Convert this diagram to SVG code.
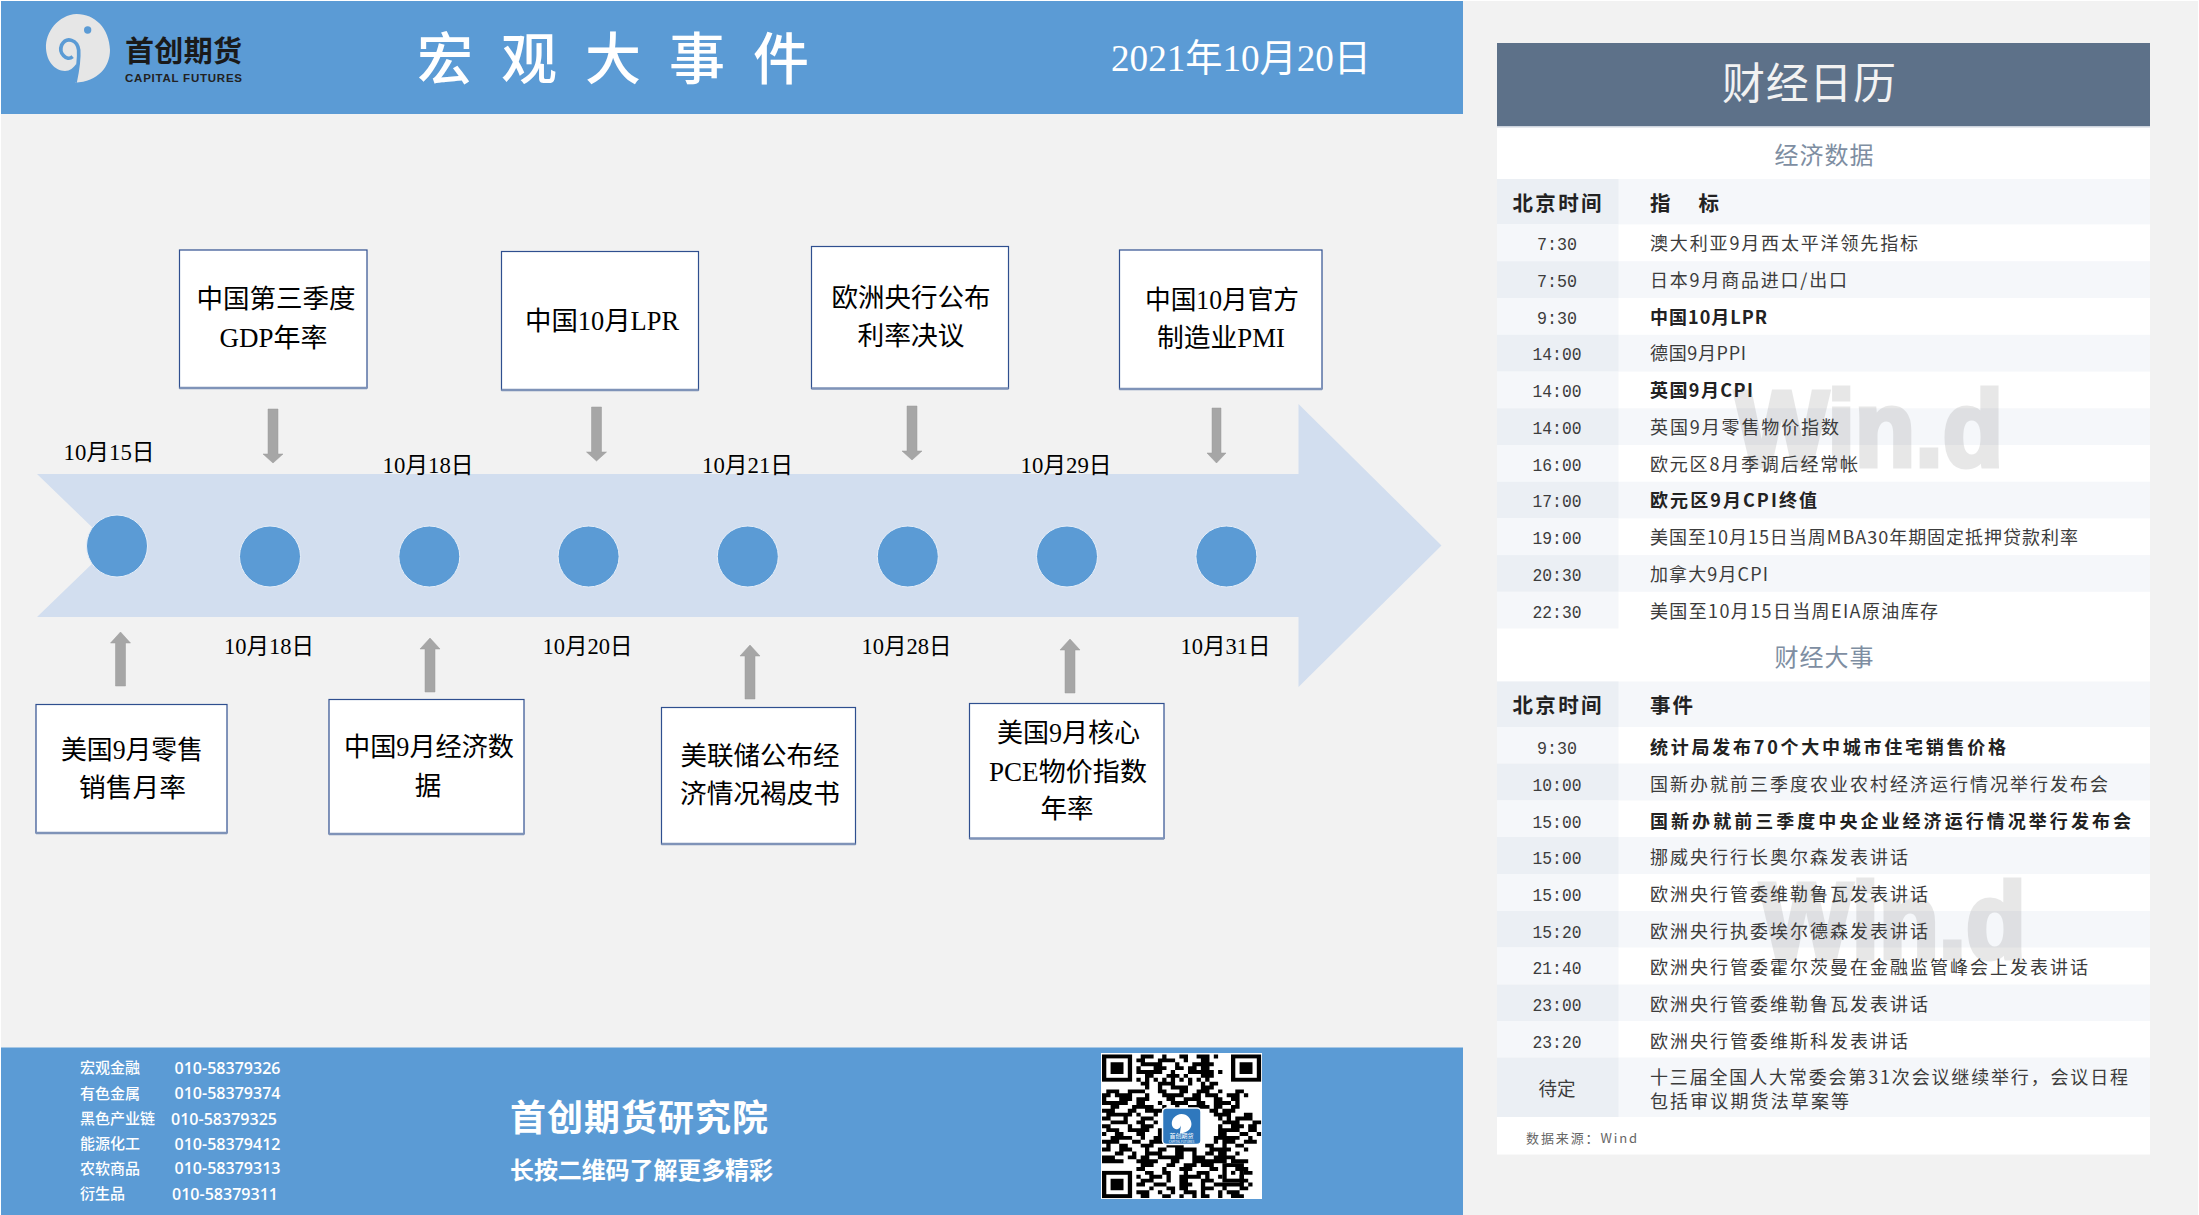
<svg xmlns="http://www.w3.org/2000/svg" width="2199" height="1215" viewBox="0 0 2199 1215">
<style>
text{font-family:"Noto Sans CJK SC","Noto Sans",sans-serif}
.band{fill:#5b9bd5}
.srf{font-family:"Liberation Serif","Noto Sans CJK SC",sans-serif;fill:#000}
.box{fill:#fff;stroke:#2f4f8f;stroke-width:1.2}
.base{stroke:#7f93b8;stroke-width:2.5}
.bt{font-size:26.5px;text-anchor:middle}
.date{font-size:23px;text-anchor:middle}
.dot{fill:#5b9bd5;stroke:#e6eef8;stroke-width:1}
.arr{fill:#a6a6a6;stroke:#9a9a9a;stroke-width:.5}
.c1{fill:#ebeff4}.c1l{fill:#f5f7fa}.r{fill:#f5f7fa}
.tm{font-family:"Liberation Mono","Noto Sans CJK SC",monospace;font-size:19px;text-anchor:middle;fill:#3c3c3c}
.tx{font-size:18px;fill:#3c3c3c}
.b{font-weight:700;fill:#222}
.hd{font-size:20.5px;font-weight:700;fill:#222}
.sec{font-size:24px;fill:#7e8ea2;text-anchor:middle}
.wm{font-family:"Liberation Sans",sans-serif;font-weight:700;font-size:107px;fill:#000;stroke:#000;stroke-width:5;opacity:.09}
.ft{font-size:15px;fill:#fff;font-weight:500}
.fn{font-family:"Open Sans","Noto Sans",sans-serif;font-size:16px;fill:#fff;font-weight:600}
</style>
<rect width="2199" height="1215" fill="#fff"/>
<rect x="1" y="1" width="2197" height="1214" fill="#f2f2f2"/>

<g id="header">
<rect class="band" x="1" y="1" width="1462" height="113"/>
<g id="logo" transform="translate(20 0) scale(.3333)">
<path d="M165 248C235 245 270 200 270 150C268 85 225 42 170 42C115 45 76 95 78 145C80 185 105 213 135 213C150 213 160 205 170 190Z" fill="#e6e6e6"/>
<path d="M165 248C172 215 178 180 176 150C172 120 140 108 125 135C115 160 140 185 158 170" fill="none" stroke="#5b9bd5" stroke-width="11"/>
<circle cx="203" cy="90" r="11" fill="#5b9bd5"/>
</g>
<text x="125" y="62" font-size="29" font-weight="700" fill="#1a1a1a" textLength="117">首创期货</text>
<text x="125" y="82" font-size="11.5" font-weight="700" fill="#222" style="font-family:'Liberation Sans',sans-serif" textLength="117">CAPITAL FUTURES</text>
<text x="417" y="79" font-size="56" font-weight="500" fill="#fff" letter-spacing="28">宏观大事件</text>
<text x="1111" y="71" font-size="38" fill="#fff" style="font-family:'Liberation Serif','Noto Sans CJK SC',sans-serif" textLength="260" lengthAdjust="spacingAndGlyphs">2021年10月20日</text>
</g>

<g id="timeline">
<polygon points="37,474 1298.5,474 1298.5,404 1441.5,545.5 1298.5,687 1298.5,617 37,617 111,545.5" fill="#d2deef"/>
</g>

<g id="connectors">
<polygon class="arr" points="268,409 278,409 278,454 283,454 273,463 263,454 268,454"/>
<polygon class="arr" points="591.5,407 601.5,407 601.5,452 606.5,452 596.5,461 586.5,452 591.5,452"/>
<polygon class="arr" points="907,406 917,406 917,451 922,451 912,460 902,451 907,451"/>
<polygon class="arr" points="1212,408 1221,408 1221,453 1226,453 1216.5,463 1207,453 1212,453"/>
<polygon class="arr" points="115.500,686 125.500,686 125.500,643 130.500,643 120.500,632 110.500,643 115.500,643"/>
<polygon class="arr" points="425,692 435,692 435,649 440,649 430,638 420,649 425,649"/>
<polygon class="arr" points="745,699 755,699 755,656 760,656 750,645 740,656 745,656"/>
<polygon class="arr" points="1065,693 1075,693 1075,650 1080,650 1070,639 1060,650 1065,650"/>
</g>

<g id="node-1015"><ellipse class="dot" cx="117" cy="546" rx="30.500" ry="31"/><text class="srf date" x="109" y="459.500" textLength="91" lengthAdjust="spacingAndGlyphs">10月15日</text></g>
<g id="node-1018a"><ellipse class="dot" cx="270" cy="556.500" rx="30.500" ry="30.500"/><text class="srf date" x="269" y="653.500" textLength="90" lengthAdjust="spacingAndGlyphs">10月18日</text></g>
<g id="node-1018b"><ellipse class="dot" cx="429.300" cy="556.500" rx="30.500" ry="30.500"/><text class="srf date" x="428" y="472.500" textLength="91" lengthAdjust="spacingAndGlyphs">10月18日</text></g>
<g id="node-1020"><ellipse class="dot" cx="588.600" cy="556.500" rx="30.500" ry="30.500"/><text class="srf date" x="587.500" y="653.500" textLength="90" lengthAdjust="spacingAndGlyphs">10月20日</text></g>
<g id="node-1021"><ellipse class="dot" cx="747.800" cy="556.500" rx="30.500" ry="30.500"/><text class="srf date" x="747.500" y="472.500" textLength="91" lengthAdjust="spacingAndGlyphs">10月21日</text></g>
<g id="node-1028"><ellipse class="dot" cx="907.800" cy="556.500" rx="30.500" ry="30.500"/><text class="srf date" x="906.500" y="653.500" textLength="90" lengthAdjust="spacingAndGlyphs">10月28日</text></g>
<g id="node-1029"><ellipse class="dot" cx="1067" cy="556.500" rx="30.500" ry="30.500"/><text class="srf date" x="1066" y="472.500" textLength="91" lengthAdjust="spacingAndGlyphs">10月29日</text></g>
<g id="node-1031"><ellipse class="dot" cx="1226.400" cy="556.500" rx="30.500" ry="30.500"/><text class="srf date" x="1225.500" y="653.500" textLength="90" lengthAdjust="spacingAndGlyphs">10月31日</text></g>

<g id="box-gdp"><rect class="box" x="179.500" y="250" width="187.500" height="138"/><path class="base" d="M179.500 388H367"/><text class="srf bt" x="276" y="307.500" textLength="159" lengthAdjust="spacingAndGlyphs">中国第三季度</text><text class="srf bt" x="273.500" y="346.500" textLength="108" lengthAdjust="spacingAndGlyphs">GDP年率</text></g>
<g id="box-lpr"><rect class="box" x="501.500" y="251.500" width="197" height="138.500"/><path class="base" d="M501.500 390H698.500"/><text class="srf bt" x="602" y="329.500" textLength="154" lengthAdjust="spacingAndGlyphs">中国10月LPR</text></g>
<g id="box-ecb"><rect class="box" x="811.500" y="246.500" width="197" height="142"/><path class="base" d="M811.500 388.500H1008.500"/><text class="srf bt" x="911" y="306.500" textLength="159" lengthAdjust="spacingAndGlyphs">欧洲央行公布</text><text class="srf bt" x="911" y="344.500" textLength="107" lengthAdjust="spacingAndGlyphs">利率决议</text></g>
<g id="box-pmi"><rect class="box" x="1119.500" y="250" width="202.500" height="139"/><path class="base" d="M1119.500 389H1322"/><text class="srf bt" x="1222" y="308.500" textLength="154" lengthAdjust="spacingAndGlyphs">中国10月官方</text><text class="srf bt" x="1221" y="346.500" textLength="128" lengthAdjust="spacingAndGlyphs">制造业PMI</text></g>
<g id="box-retail"><rect class="box" x="36" y="704.500" width="191" height="128.500"/><path class="base" d="M36 833H227"/><text class="srf bt" x="132" y="758.500" textLength="142" lengthAdjust="spacingAndGlyphs">美国9月零售</text><text class="srf bt" x="132.500" y="796.500" textLength="107" lengthAdjust="spacingAndGlyphs">销售月率</text></g>
<g id="box-cn"><rect class="box" x="329" y="699.500" width="195" height="134.500"/><path class="base" d="M329 834H524"/><text class="srf bt" x="429" y="755.500" textLength="170" lengthAdjust="spacingAndGlyphs">中国9月经济数</text><text class="srf bt" x="428" y="794.500">据</text></g>
<g id="box-fed"><rect class="box" x="661.500" y="707.500" width="194" height="136.500"/><path class="base" d="M661.500 844H855.500"/><text class="srf bt" x="760" y="764.500" textLength="159" lengthAdjust="spacingAndGlyphs">美联储公布经</text><text class="srf bt" x="760" y="802.500" textLength="160" lengthAdjust="spacingAndGlyphs">济情况褐皮书</text></g>
<g id="box-pce"><rect class="box" x="969.500" y="703.500" width="194.500" height="135"/><path class="base" d="M969.500 838.500H1164"/><text class="srf bt" x="1068.500" y="741.500" textLength="143" lengthAdjust="spacingAndGlyphs">美国9月核心</text><text class="srf bt" x="1068" y="780.500" textLength="158" lengthAdjust="spacingAndGlyphs">PCE物价指数</text><text class="srf bt" x="1067" y="817.500" textLength="53" lengthAdjust="spacingAndGlyphs">年率</text></g>

<g id="footer">
<rect class="band" x="1" y="1047.500" width="1462" height="167.500"/>
<g id="contacts">
<text class="ft" x="80" y="1073" textLength="60">宏观金融</text><text class="fn" x="174.500" y="1073.500" textLength="106">010-58379326</text>
<text class="ft" x="80" y="1098.500" textLength="60">有色金属</text><text class="fn" x="174.500" y="1099" textLength="106">010-58379374</text>
<text class="ft" x="80" y="1124" textLength="75">黑色产业链</text><text class="fn" x="171" y="1124.500" textLength="106">010-58379325</text>
<text class="ft" x="80" y="1149" textLength="60">能源化工</text><text class="fn" x="174.500" y="1149.500" textLength="106">010-58379412</text>
<text class="ft" x="80" y="1173.500" textLength="60">农软商品</text><text class="fn" x="174.500" y="1174" textLength="106">010-58379313</text>
<text class="ft" x="80" y="1199" textLength="45">衍生品</text><text class="fn" x="172" y="1199.500" textLength="106">010-58379311</text>
</g>
<text x="510" y="1131" font-size="36" font-weight="700" fill="#fff" textLength="258">首创期货研究院</text>
<text x="510" y="1179" font-size="24" font-weight="700" fill="#fff" textLength="263">长按二维码了解更多精彩</text>
<g id="qr">
<rect x="1101" y="1053" width="161" height="146" fill="#fff"/>
<g transform="translate(1102 1054.500) scale(4.3 3.88)" fill="none" stroke="#000">
<rect x=".5" y=".5" width="6" height="6"/><rect x="30.500" y=".5" width="6" height="6"/><rect x=".5" y="30.500" width="6" height="6"/><rect x="28.500" y="28.500" width="4" height="4"/>
<path d="M2 2h3v3h-3zM32 2h3v3h-3zM2 32h3v3h-3z" fill="#000" stroke="none"/><path d="M30 30h1v1h-1z" fill="#000" stroke="none"/>
<path d="M9 .5h3m2 0h1m3 0h2m2 0h3m1 0h1M8 1.500h2m3 0h4m2 0h1m3 0h2M9 2.500h5m3 0h1m3 0h5M8 3.500h1m3 0h3m2 0h2m1 0h2m1 0h2M8 4.500h6m2 0h1m3 0h6m1 0h1M10 5.500h2m3 0h3m1 0h1m3 0h3M8 6.500h1m1 0h1m1 0h1m1 0h1m1 0h1m1 0h1m1 0h1m1 0h1m1 0h1M9 7.500h2m2 0h4m3 0h1m2 0h1m1 0h2M10 8.500h1m2 0h1m2 0h4m3 0h3M1 9.500h3m2 0h4m3 0h2m3 0h2m2 0h3m2 0h1m3 0h2M0 10.500h2m1 0h4m3 0h1m3 0h5m2 0h2m1 0h3m2 0h3m1 0h1M0 11.500h1m3 0h3m1 0h3m4 0h2m2 0h4m3 0h2m2 0h2M0 12.500h6m2 0h2m3 0h1m2 0h4m2 0h2m2 0h4m1 0h1M2 13.500h2m3 0h5m2 0h1m2 0h1m2 0h5m1 0h2m2 0h2M0 14.500h3m3 0h2m2 0h4m2 0h1m3 0h2m3 0h2m1 0h3M1 15.500h6m1 0h1m3 0h1m13 0h4m3 0h2M0 16.500h2m3 0h1m3 0h3m15 0h1m1 0h1m1 0h4M2 17.500h4m2 0h2m2 0h1m15 0h4m3 0h2M0 18.500h2m4 0h1m2 0h3m15 0h1m2 0h3m1 0h2M1 19.500h3m2 0h5m2 0h1m13 0h5m2 0h2M0 20.500h1m2 0h2m3 0h2m3 0h1m13 0h2m3 0h2m2 0h1M2 21.500h5m2 0h1m2 0h2m12 0h6m2 0h1M0 22.500h4m3 0h2m2 0h4m11 0h1m1 0h3m2 0h3M1 23.500h1m2 0h2m3 0h3m3 0h4m5 0h2m2 0h1m2 0h2M0 24.500h2m2 0h3m3 0h1m2 0h2m2 0h5m3 0h5m3 0h1M3 25.500h2m2 0h1m2 0h4m3 0h2m2 0h1m2 0h2m1 0h2m2 0h1M0 26.500h3m3 0h2m1 0h2m2 0h6m2 0h3m2 0h5M0 27.500h5m3 0h5m3 0h2m3 0h8m1 0h4M9 28.500h3m3 0h2m2 0h3m1 0h3M8 29.500h2m4 0h1m3 0h3m4 0h2m4 0h3M10 30.500h2m2 0h2m3 0h1m2 0h3m8 0h2M8 31.500h1m2 0h3m1 0h1m2 0h5m1 0h1m2 0h1m4 0h1M9 32.500h3m3 0h1m2 0h2m3 0h3m6 0h2M8 33.500h2m2 0h3m3 0h3m2 0h1m2 0h7m1 0h1M11 34.500h1m3 0h2m1 0h2m3 0h3m2 0h1m3 0h2M8 35.500h3m2 0h1m2 0h1m2 0h3m1 0h1m3 0h1m1 0h3M9 36.500h2m3 0h2m2 0h1m2 0h1m1 0h2m2 0h1m2 0h3"/>
</g>
<rect x="1162.500" y="1108" width="38.500" height="36.500" rx="4" fill="#2f78bd" stroke="#fff" stroke-width="1.500"/>
<g transform="translate(1171.500 1113.500) scale(.105)"><path d="M80 190C130 188 190 160 190 100C188 50 150 5 95 5C40 8 0 50 3 100C5 135 30 150 55 150C70 150 85 130 90 115Z" fill="#fff"/></g>
<text x="1181.500" y="1138" font-size="6" fill="#fff" text-anchor="middle">首创期货</text>
<text x="1181.500" y="1142.500" font-size="3" fill="#fff" text-anchor="middle">CAPITAL FUTURES</text>
</g>
</g>

<g id="calendar">
<rect x="1497" y="126" width="653" height="1028.500" fill="#fff"/>
<rect x="1497" y="43" width="653" height="83" fill="#5d7189"/>
<rect x="1497" y="126" width="653" height="1.500" fill="#cdd4de"/>
<text x="1809" y="99" font-size="43" fill="#f2f2f2" text-anchor="middle" textLength="174">财经日历</text>
<text class="sec" x="1824" y="163.500" textLength="99">经济数据</text>
<g id="grid1">
<rect class="r" x="1497" y="179" width="653" height="45.400"/><rect class="c1" x="1497" y="179" width="121.500" height="45.400"/>
<rect class="c1l" x="1497" y="224.400" width="121.500" height="36.800"/>
<rect class="r" x="1497" y="261.200" width="653" height="36.800"/><rect class="c1" x="1497" y="261.200" width="121.500" height="36.800"/>
<rect class="c1l" x="1497" y="298" width="121.500" height="36.800"/>
<rect class="r" x="1497" y="334.800" width="653" height="36.800"/><rect class="c1" x="1497" y="334.800" width="121.500" height="36.800"/>
<rect class="c1l" x="1497" y="371.600" width="121.500" height="36.700"/>
<rect class="r" x="1497" y="408.300" width="653" height="36.700"/><rect class="c1" x="1497" y="408.300" width="121.500" height="36.700"/>
<rect class="c1l" x="1497" y="445" width="121.500" height="36.700"/>
<rect class="r" x="1497" y="481.700" width="653" height="36.700"/><rect class="c1" x="1497" y="481.700" width="121.500" height="36.700"/>
<rect class="c1l" x="1497" y="518.400" width="121.500" height="36.700"/>
<rect class="r" x="1497" y="555.100" width="653" height="36.700"/><rect class="c1" x="1497" y="555.100" width="121.500" height="36.700"/>
<rect class="c1l" x="1497" y="591.800" width="121.500" height="36.700"/>
</g>
<text class="wm" x="1735" y="466" textLength="268" lengthAdjust="spacingAndGlyphs">Win.d</text>
<g id="rows1">
<text class="hd" x="1557" y="210.500" text-anchor="middle" textLength="89">北京时间</text><text class="hd" x="1650" y="210.500" textLength="69" xml:space="preserve">指   标</text>
<text class="tm" x="1557" y="250" textLength="40" lengthAdjust="spacingAndGlyphs">7:30</text><text class="tx" x="1650" y="250" textLength="268">澳大利亚9月西太平洋领先指标</text>
<text class="tm" x="1557" y="287" textLength="40" lengthAdjust="spacingAndGlyphs">7:50</text><text class="tx" x="1650" y="287" textLength="197">日本9月商品进口/出口</text>
<text class="tm" x="1557" y="323.500" textLength="40" lengthAdjust="spacingAndGlyphs">9:30</text><text class="tx b" x="1650" y="323.500" textLength="117">中国10月LPR</text>
<text class="tm" x="1557" y="360" textLength="49" lengthAdjust="spacingAndGlyphs">14:00</text><text class="tx" x="1650" y="360" textLength="96">德国9月PPI</text>
<text class="tm" x="1557" y="397" textLength="49" lengthAdjust="spacingAndGlyphs">14:00</text><text class="tx b" x="1650" y="397" textLength="103">英国9月CPI</text>
<text class="tm" x="1557" y="434" textLength="49" lengthAdjust="spacingAndGlyphs">14:00</text><text class="tx" x="1650" y="434" textLength="189">英国9月零售物价指数</text>
<text class="tm" x="1557" y="470.500" textLength="49" lengthAdjust="spacingAndGlyphs">16:00</text><text class="tx" x="1650" y="470.500" textLength="208">欧元区8月季调后经常帐</text>
<text class="tm" x="1557" y="507" textLength="49" lengthAdjust="spacingAndGlyphs">17:00</text><text class="tx b" x="1650" y="507" textLength="167">欧元区9月CPI终值</text>
<text class="tm" x="1557" y="544" textLength="49" lengthAdjust="spacingAndGlyphs">19:00</text><text class="tx" x="1650" y="544" textLength="428">美国至10月15日当周MBA30年期固定抵押贷款利率</text>
<text class="tm" x="1557" y="581" textLength="49" lengthAdjust="spacingAndGlyphs">20:30</text><text class="tx" x="1650" y="581" textLength="118">加拿大9月CPI</text>
<text class="tm" x="1557" y="618" textLength="49" lengthAdjust="spacingAndGlyphs">22:30</text><text class="tx" x="1650" y="618" textLength="288">美国至10月15日当周EIA原油库存</text>
</g>
<text class="sec" x="1824" y="665.500" textLength="99">财经大事</text>
<g id="grid2">
<rect class="r" x="1497" y="681.500" width="653" height="45.500"/><rect class="c1" x="1497" y="681.500" width="121.500" height="45.500"/>
<rect class="c1l" x="1497" y="727" width="121.500" height="36.500"/>
<rect class="r" x="1497" y="763.500" width="653" height="37"/><rect class="c1" x="1497" y="763.500" width="121.500" height="37"/>
<rect class="c1l" x="1497" y="800.500" width="121.500" height="36.500"/>
<rect class="r" x="1497" y="837" width="653" height="37"/><rect class="c1" x="1497" y="837" width="121.500" height="37"/>
<rect class="c1l" x="1497" y="874" width="121.500" height="37"/>
<rect class="r" x="1497" y="911" width="653" height="36.500"/><rect class="c1" x="1497" y="911" width="121.500" height="36.500"/>
<rect class="c1l" x="1497" y="947.500" width="121.500" height="37"/>
<rect class="r" x="1497" y="984.500" width="653" height="36.500"/><rect class="c1" x="1497" y="984.500" width="121.500" height="36.500"/>
<rect class="c1l" x="1497" y="1021" width="121.500" height="36.500"/>
<rect class="r" x="1497" y="1057.500" width="653" height="59.500"/><rect class="c1" x="1497" y="1057.500" width="121.500" height="59.500"/>
</g>
<text class="wm" x="1760" y="958" textLength="266" lengthAdjust="spacingAndGlyphs">Win.d</text>
<g id="rows2">
<text class="hd" x="1557" y="712.500" text-anchor="middle" textLength="89">北京时间</text><text class="hd" x="1650" y="712.500" textLength="43">事件</text>
<text class="tm" x="1557" y="754" textLength="40" lengthAdjust="spacingAndGlyphs">9:30</text><text class="tx b" x="1650" y="754" textLength="356">统计局发布70个大中城市住宅销售价格</text>
<text class="tm" x="1557" y="790.500" textLength="49" lengthAdjust="spacingAndGlyphs">10:00</text><text class="tx" x="1650" y="790.500" textLength="458">国新办就前三季度农业农村经济运行情况举行发布会</text>
<text class="tm" x="1557" y="827.500" textLength="49" lengthAdjust="spacingAndGlyphs">15:00</text><text class="tx b" x="1650" y="827.500" textLength="481">国新办就前三季度中央企业经济运行情况举行发布会</text>
<text class="tm" x="1557" y="863.500" textLength="49" lengthAdjust="spacingAndGlyphs">15:00</text><text class="tx" x="1650" y="863.500" textLength="258">挪威央行行长奥尔森发表讲话</text>
<text class="tm" x="1557" y="900.500" textLength="49" lengthAdjust="spacingAndGlyphs">15:00</text><text class="tx" x="1650" y="900.500" textLength="278">欧洲央行管委维勒鲁瓦发表讲话</text>
<text class="tm" x="1557" y="937.500" textLength="49" lengthAdjust="spacingAndGlyphs">15:20</text><text class="tx" x="1650" y="937.500" textLength="278">欧洲央行执委埃尔德森发表讲话</text>
<text class="tm" x="1557" y="974" textLength="49" lengthAdjust="spacingAndGlyphs">21:40</text><text class="tx" x="1650" y="974" textLength="438">欧洲央行管委霍尔茨曼在金融监管峰会上发表讲话</text>
<text class="tm" x="1557" y="1011" textLength="49" lengthAdjust="spacingAndGlyphs">23:00</text><text class="tx" x="1650" y="1011" textLength="278">欧洲央行管委维勒鲁瓦发表讲话</text>
<text class="tm" x="1557" y="1047.500" textLength="49" lengthAdjust="spacingAndGlyphs">23:20</text><text class="tx" x="1650" y="1047.500" textLength="258">欧洲央行管委维斯科发表讲话</text>
<text class="tm" x="1557" y="1095.500" textLength="37" lengthAdjust="spacingAndGlyphs">待定</text><text class="tx" x="1650" y="1084" textLength="478">十三届全国人大常委会第31次会议继续举行，会议日程</text><text class="tx" x="1650" y="1108" textLength="199">包括审议期货法草案等</text>
</g>
<text x="1526" y="1142.500" font-size="13" fill="#666" textLength="111">数据来源：Wind</text>
</g>
</svg>
